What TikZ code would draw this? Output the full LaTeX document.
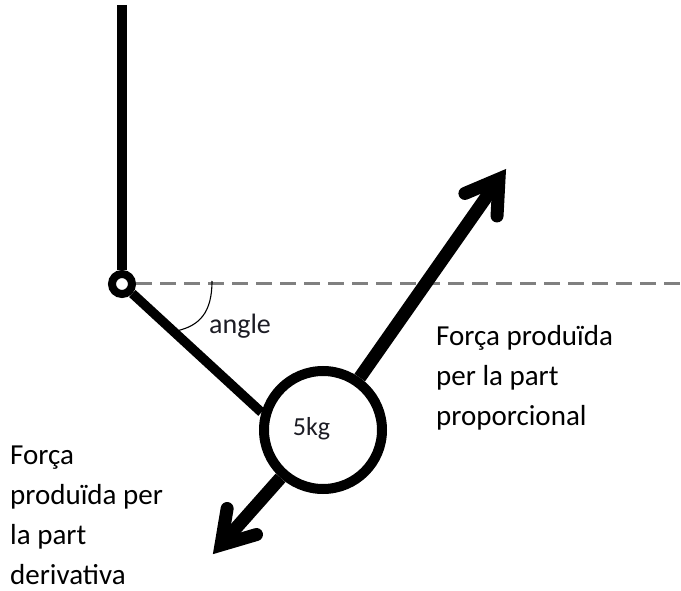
\documentclass[tikz,border=0pt]{standalone}
\usepackage{fontspec}
\setmainfont{Carlito}
\usetikzlibrary{calc}
\definecolor{dashgray}{RGB}{128,128,128}
\definecolor{smalltext}{RGB}{28,28,36}
\begin{document}
\begin{tikzpicture}[x=1pt,y=-1pt,
  bar/.style={line width=9.5pt},
  shaft/.style={line width=13pt},
  chev/.style={line width=13pt, line cap=round, line join=miter},
  dashline/.style={draw=dashgray, line width=3pt, dash pattern=on 16pt off 8pt},
  bigtext/.style={font=\fontsize{29}{40}\selectfont, align=left, inner sep=0pt, anchor=base west},
  lbl/.style={text=smalltext, inner sep=0pt, anchor=base west}]
\useasboundingbox (0,0) rectangle (681,591);
% pivot and ball
\node[circle, draw, line width=8pt, minimum size=20pt, inner sep=0pt] (pivot) at (122,284) {};
\node[circle, draw, line width=10pt, minimum size=118pt, inner sep=0pt] (ball) at (323,430) {};
\coordinate (top) at (122,5);
\coordinate (dashend) at (681,284);
% suspension
\draw[bar] (top) -- (pivot);
\draw[bar] (pivot) -- (ball.164);
\draw[dashline] (pivot.east) -- (dashend);
% angle arc
\coordinate (arcA) at (212,281);
\coordinate (arcB) at (176,331);
\draw[line width=1.1pt] (arcA) .. controls (212,312) and (200,326) .. (arcB);
% force arrows
\coordinate (upv) at (499,179);
\coordinate (downv) at (221,545);
\draw[shaft] (ball) -- (upv);
\draw[chev] ($(upv)!37pt!32:(ball.center)$) -- (upv) -- ($(upv)!37pt!-32:(ball.center)$);
\draw[shaft] (ball) -- (downv);
\draw[chev] ($(downv)!37pt!32:(ball.center)$) -- (downv) -- ($(downv)!37pt!-32:(ball.center)$);
% labels
\node[lbl, font=\fontsize{28}{32}\selectfont] (anglelbl) at (209,333) {angle};
\node[lbl, anchor=base, font=\fontsize{26}{30}\selectfont] (mass) at (311.5,435) {5kg};
\node[bigtext] (prop) at (436,425) {Força produïda\\per la part\\proporcional};
\node[bigtext] (deriv) at (10,584) {Força\\produïda per\\la part\\derivativa};
\end{tikzpicture}
\end{document}
